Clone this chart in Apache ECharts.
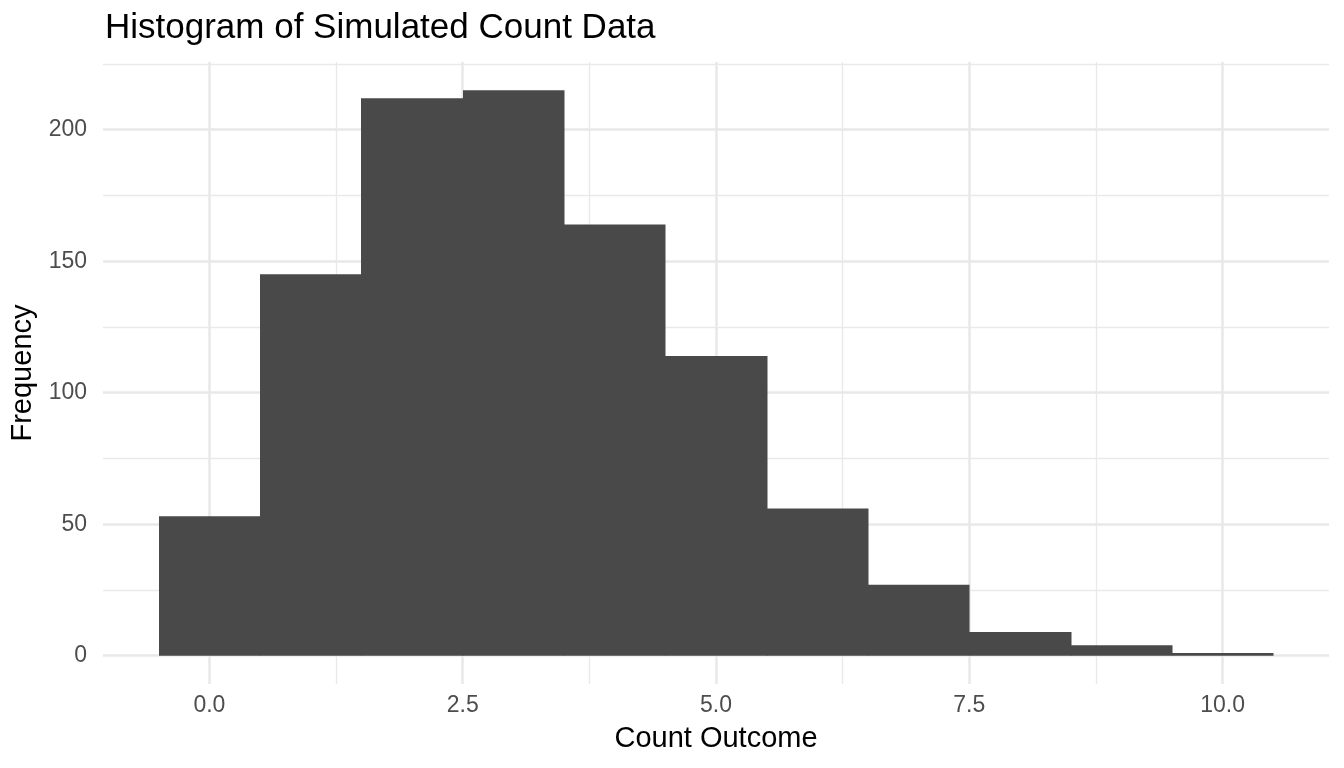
<!DOCTYPE html>
<html>
<head>
<meta charset="utf-8">
<title>Histogram of Simulated Count Data</title>
<script src="https://cdn.jsdelivr.net/npm/echarts@6/dist/echarts.min.js"></script>
<style>
  html, body { margin: 0; padding: 0; background: #fff; }
  #main { width: 1344px; height: 768px; }
</style>
</head>
<body>
<div id="main"></div>
<script>
// bin centers (width 1) and counts
var binCenters = [0, 1, 2, 3, 4, 5, 6, 7, 8, 9, 10];
var counts = [53, 145, 212, 215, 164, 114, 56, 27, 9, 4, 1];
var binWidth = 1;

// axis breaks
var xMajor = [0, 2.5, 5, 7.5, 10];
var xMinor = [1.25, 3.75, 6.25, 8.75];
var yMajor = [0, 50, 100, 150, 200];
var yMinor = [25, 75, 125, 175, 225];

var xRange = [-1.05, 11.05];
var yRange = [-10.75, 225.75];

var chart = echarts.init(document.getElementById('main'));

var barData = [];
for (var i = 0; i < binCenters.length; i++) {
    barData.push([binCenters[i], counts[i]]);
}

function gridLines(xs, ys) {
    var d = [];
    xs.forEach(function (v) { d.push({ xAxis: v }); });
    ys.forEach(function (v) { d.push({ yAxis: v }); });
    return d;
}

var font = 'Liberation Sans, Arial, Helvetica, sans-serif';

var option = {
    backgroundColor: '#ffffff',
    animation: false,
    title: {
        text: 'Histogram of Simulated Count Data',
        left: 100,
        top: 6,
        textStyle: { fontFamily: font, fontSize: 35, fontWeight: 'normal', color: '#000' }
    },
    grid: { left: 103, right: 15, top: 62, bottom: 84, containLabel: false },
    xAxis: {
        type: 'value',
        min: xRange[0],
        max: xRange[1],
        name: 'Count Outcome',
        nameLocation: 'middle',
        nameGap: 40,
        nameTextStyle: { fontFamily: font, fontSize: 29, color: '#000' },
        axisLine: { show: false },
        axisTick: { show: false },
        splitLine: { show: false },
        axisLabel: {
            customValues: xMajor,
            margin: 10,
            fontFamily: font,
            fontSize: 23,
            color: '#4d4d4d',
            formatter: function (v) { return v.toFixed(1); }
        }
    },
    yAxis: {
        type: 'value',
        min: yRange[0],
        max: yRange[1],
        name: 'Frequency',
        nameLocation: 'middle',
        nameGap: 58,
        nameRotate: 90,
        nameTextStyle: { fontFamily: font, fontSize: 29, color: '#000' },
        axisLine: { show: false },
        axisTick: { show: false },
        splitLine: { show: false },
        axisLabel: {
            customValues: yMajor,
            margin: 16,
            fontFamily: font,
            fontSize: 23,
            color: '#4d4d4d'
        }
    },
    series: [
        {
            // minor grid
            type: 'line',
            data: [],
            silent: true,
            z: 1,
            markLine: {
                silent: true,
                symbol: 'none',
                label: { show: false },
                lineStyle: { color: '#e9e9e9', width: 1.4, type: 'solid' },
                data: gridLines(xMinor, yMinor)
            }
        },
        {
            // major grid
            type: 'line',
            data: [],
            silent: true,
            z: 1,
            markLine: {
                silent: true,
                symbol: 'none',
                label: { show: false },
                lineStyle: { color: '#e8e8e8', width: 2.5, type: 'solid' },
                data: gridLines(xMajor, yMajor)
            }
        },
        {
            type: 'custom',
            z: 5,
            data: barData,
            renderItem: function (params, api) {
                var x = api.value(0), y = api.value(1);
                var p0 = api.coord([x - binWidth / 2, y]);
                var p1 = api.coord([x + binWidth / 2, 0]);
                var left = Math.round(p0[0]), right = Math.round(p1[0]);
                return {
                    type: 'rect',
                    shape: { x: left, y: p0[1], width: right - left + 0.5, height: p1[1] - p0[1] },
                    style: { fill: '#494949' }
                };
            }
        }
    ]
};

chart.setOption(option);
</script>
</body>
</html>
